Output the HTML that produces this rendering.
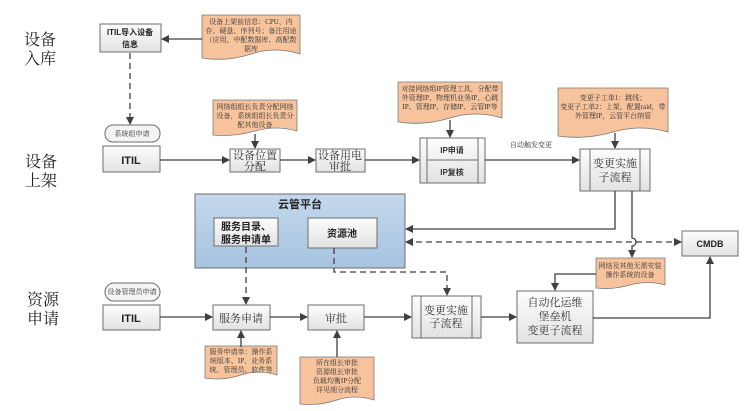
<!DOCTYPE html>
<html><head><meta charset="utf-8"><style>
html,body{margin:0;padding:0;background:#fff;}
svg{display:block;font-family:"Liberation Sans","Noto Sans CJK SC",sans-serif;}
.b{fill:url(#gb);stroke:#6d6d6d;stroke-width:1;}
.n{fill:#f6c39c;stroke:#7a7a7a;stroke-width:0.8;}
.l{stroke:#404040;stroke-width:1.3;fill:none;}
.d{stroke:#404040;stroke-width:1.3;fill:none;stroke-dasharray:6,4;}
.t{font-size:7px;fill:#333;text-anchor:middle;font-family:"Liberation Serif","Noto Serif CJK SC",serif;}
.m{font-size:11px;fill:#333;text-anchor:middle;font-family:"Liberation Serif","Noto Serif CJK SC",serif;}
</style></head><body>
<svg width="754" height="411" viewBox="0 0 754 411" xmlns="http://www.w3.org/2000/svg">
<defs>
<linearGradient id="gb" x1="0" y1="0" x2="0" y2="1"><stop offset="0" stop-color="#fdfdfd"/><stop offset="1" stop-color="#e2e2e2"/></linearGradient>
<linearGradient id="gc" x1="0" y1="0" x2="0" y2="1"><stop offset="0" stop-color="#c4d8ec"/><stop offset="1" stop-color="#a6c3e0"/></linearGradient>
<marker id="a" markerWidth="8" markerHeight="8" refX="7" refY="4" orient="auto" markerUnits="userSpaceOnUse"><path d="M0,0 L8,4 L0,8 z" fill="#404040"/></marker>
<marker id="as" markerWidth="8" markerHeight="8" refX="1" refY="4" orient="auto" markerUnits="userSpaceOnUse"><path d="M8,0 L0,4 L8,8 z" fill="#404040"/></marker>
</defs>

<g font-size="16" fill="#222" font-family="Liberation Serif, Noto Serif CJK SC, serif">
<text x="24" y="45">设备</text><text x="24" y="64">入库</text>
<text x="25" y="167">设备</text><text x="25" y="186">上架</text>
<text x="27" y="305">资源</text><text x="27" y="324">申请</text>
</g>

<rect x="195" y="194" width="210" height="74" fill="url(#gc)" stroke="#6d6d6d"/>
<text x="300" y="208" font-size="11" font-weight="bold" text-anchor="middle" fill="#222">云管平台</text>
<rect class="b" x="214" y="218" width="64" height="28"/>
<text x="246" y="230" font-size="10" font-weight="bold" text-anchor="middle" fill="#222">服务目录、</text>
<text x="246" y="243" font-size="10" font-weight="bold" text-anchor="middle" fill="#222">服务申请单</text>
<rect class="b" x="308" y="218" width="69" height="30"/>
<text x="342" y="237" font-size="10" font-weight="bold" text-anchor="middle" fill="#222">资源池</text>

<path class="n" d="M202,15 H300 V54 Q275,46 251,54 T202,58 z"/>
<text class="t" x="251" y="24">设备上架前信息：CPU、内</text>
<text class="t" x="251" y="33">存、硬盘、序列号；备注用途</text>
<text class="t" x="251" y="42">（应用、中配数据库、高配数</text>
<text class="t" x="251" y="51">据库</text>

<path class="n" d="M213,100 H297 V131 Q276,125 255,131 T213,135 z"/>
<text class="t" x="255" y="109">网络组组长负责分配网络</text>
<text class="t" x="255" y="118">设备，系统组组长负责分</text>
<text class="t" x="255" y="127">配其他设备</text>

<path class="n" d="M398,82 H502 V118 Q476,110 450,118 T398,122 z"/>
<text class="t" x="450" y="91">对接网络组IP管理工具，分配带</text>
<text class="t" x="450" y="100">外管理IP、物理机业务IP、心跳</text>
<text class="t" x="450" y="109">IP、管理IP、存储IP、云管IP等</text>

<path class="n" d="M558,88 H668 V132 Q640,124 613,132 T558,136 z"/>
<text class="t" x="613" y="100">变更子工单1：跳线；</text>
<text class="t" x="613" y="109">变更子工单2：上架，配置raid，带</text>
<text class="t" x="613" y="118">外管理IP，云管平台纳管</text>

<path class="n" d="M596,258 H665 V285 Q648,280 630,285 T596,288 z"/>
<text class="t" x="630" y="268">网络及其他无需安装</text>
<text class="t" x="630" y="277">操作系统的设备</text>

<path class="n" d="M205,346 H277 V375 Q259,369 241,375 T205,378 z"/>
<text class="t" x="241" y="354">服务申请单：操作系</text>
<text class="t" x="241" y="363">统版本、IP、业务系</text>
<text class="t" x="241" y="372">统、管理员、软件等</text>

<path class="n" d="M300,357 H374 V400 Q355,394 337,400 T300,404 z"/>
<text class="t" x="337" y="365">所在组长审批</text>
<text class="t" x="337" y="374">资源组长审批</text>
<text class="t" x="337" y="383">负载均衡IP分配</text>
<text class="t" x="337" y="392">详见细分流程</text>

<rect class="b" x="100" y="24" width="61" height="28"/>
<text x="130" y="35" font-size="8" font-weight="bold" text-anchor="middle" fill="#222">ITIL导入设备</text>
<text x="130" y="47" font-size="8" font-weight="bold" text-anchor="middle" fill="#222">信息</text>

<rect x="105" y="125" width="55" height="17" rx="8" fill="#f4f4f4" stroke="#6d6d6d"/>
<text class="t" x="132" y="136">系统组申请</text>
<rect class="b" x="103" y="146" width="57" height="26"/>
<text x="131" y="164" font-size="11" font-weight="bold" text-anchor="middle" fill="#222">ITIL</text>

<rect class="b" x="230" y="149" width="50" height="23"/>
<text class="m" x="255" y="159" font-size="9.5">设备位置</text>
<text class="m" x="255" y="170" font-size="9.5">分配</text>

<rect class="b" x="316" y="149" width="49" height="23"/>
<text class="m" x="340" y="159" font-size="9.5">设备用电</text>
<text class="m" x="340" y="170" font-size="9.5">审批</text>

<rect class="b" x="420" y="138" width="65" height="45"/>
<line x1="427" y1="138" x2="427" y2="183" stroke="#6d6d6d"/>
<line x1="478" y1="138" x2="478" y2="183" stroke="#6d6d6d"/>
<line x1="427" y1="160" x2="478" y2="160" stroke="#6d6d6d"/>
<text x="452" y="153" font-size="8" font-weight="bold" text-anchor="middle" fill="#333">IP申请</text>
<text x="452" y="175" font-size="8" font-weight="bold" text-anchor="middle" fill="#333">IP复核</text>

<text class="t" x="531" y="147">自动触发变更</text>

<rect class="b" x="580" y="149" width="70" height="42"/>
<line x1="590" y1="149" x2="590" y2="191" stroke="#6d6d6d"/>
<line x1="640" y1="149" x2="640" y2="191" stroke="#6d6d6d"/>
<text class="m" x="615" y="167" font-size="10">变更实施</text>
<text class="m" x="615" y="181" font-size="10">子流程</text>

<rect class="b" x="682" y="231" width="56" height="25"/>
<text x="710" y="247" font-size="9" font-weight="bold" text-anchor="middle" fill="#222">CMDB</text>

<rect x="105" y="283" width="55" height="18" rx="9" fill="#f4f4f4" stroke="#6d6d6d"/>
<text class="t" x="132" y="294">设备管理员申请</text>
<rect class="b" x="103" y="305" width="57" height="25"/>
<text x="131" y="322" font-size="11" font-weight="bold" text-anchor="middle" fill="#222">ITIL</text>

<rect class="b" x="213" y="305" width="57" height="25"/>
<text class="m" x="241" y="322">服务申请</text>
<rect class="b" x="308" y="305" width="56" height="25"/>
<text class="m" x="336" y="322">审批</text>

<rect class="b" x="412" y="296" width="69" height="42"/>
<line x1="421" y1="296" x2="421" y2="338" stroke="#6d6d6d"/>
<line x1="472" y1="296" x2="472" y2="338" stroke="#6d6d6d"/>
<text class="m" x="446" y="314" font-size="10">变更实施</text>
<text class="m" x="446" y="327" font-size="10">子流程</text>

<rect class="b" x="517" y="291" width="76" height="52"/>
<text class="m" x="555" y="306" font-size="10">自动化运维</text>
<text class="m" x="555" y="320" font-size="10">堡垒机</text>
<text class="m" x="555" y="334" font-size="10">变更子流程</text>

<line class="l" x1="202" y1="39" x2="162" y2="39" marker-end="url(#a)"/>
<line class="d" x1="130" y1="53" x2="130" y2="124" marker-end="url(#a)"/>
<line class="l" x1="160" y1="160" x2="229" y2="160" marker-end="url(#a)"/>
<line class="l" x1="255" y1="134" x2="255" y2="148" marker-end="url(#a)"/>
<line class="l" x1="280" y1="160" x2="315" y2="160" marker-end="url(#a)"/>
<line class="l" x1="365" y1="160" x2="419" y2="160" marker-end="url(#a)"/>
<line class="l" x1="450" y1="120" x2="450" y2="137" marker-end="url(#a)"/>
<line class="l" x1="485" y1="160" x2="579" y2="160" marker-end="url(#a)"/>
<line class="l" x1="615" y1="133" x2="615" y2="148" marker-end="url(#a)"/>
<polyline class="l" points="615,191 615,229 406,229" marker-end="url(#a)"/>
<path class="l" d="M632,191 V238 A4,4 0 0 1 632,246 V257" marker-end="url(#a)"/>
<line class="d" x1="406" y1="242" x2="681" y2="242" marker-start="url(#as)" marker-end="url(#a)"/>
<polyline class="l" points="596,274 555,274 555,290" marker-end="url(#a)"/>
<polyline class="l" points="593,318 710,318 710,257" marker-end="url(#a)"/>

<line class="d" x1="246" y1="247" x2="246" y2="304" marker-end="url(#a)"/>
<polyline class="d" points="334,248 334,272 447,272 447,295" marker-end="url(#a)"/>
<line class="l" x1="160" y1="317" x2="212" y2="317" marker-end="url(#a)"/>
<line class="l" x1="270" y1="317" x2="307" y2="317" marker-end="url(#a)"/>
<line class="l" x1="364" y1="317" x2="411" y2="317" marker-end="url(#a)"/>
<line class="l" x1="481" y1="317" x2="516" y2="317" marker-end="url(#a)"/>
<line class="l" x1="241" y1="347" x2="241" y2="331" marker-end="url(#a)"/>
<line class="l" x1="337" y1="357" x2="337" y2="331" marker-end="url(#a)"/>
</svg>
</body></html>
